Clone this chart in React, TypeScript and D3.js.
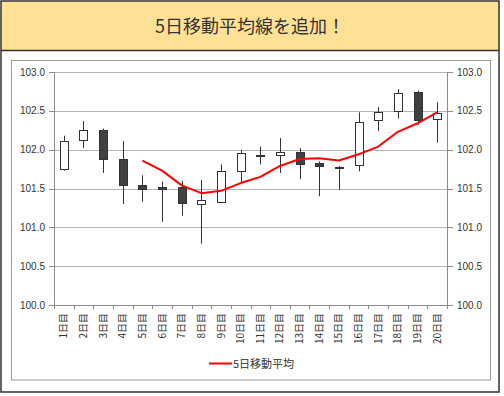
import React from "react";
import * as d3 from "d3";

const days = ["1日目","2日目","3日目","4日目","5日目","6日目","7日目","8日目","9日目","10日目","11日目","12日目","13日目","14日目","15日目","16日目","17日目","18日目","19日目","20日目"];
const openV = [101.75,102.12,102.25,101.88,101.55,101.52,101.52,101.30,101.33,101.72,101.93,101.93,101.97,101.83,101.78,101.80,102.38,102.50,102.74,102.39];
const highV = [102.18,102.37,102.27,102.11,101.67,101.59,101.60,101.61,101.81,102.00,102.04,102.15,102.02,101.85,101.79,102.48,102.55,102.78,102.76,102.61];
const lowV = [101.73,102.02,101.70,101.30,101.33,101.07,101.15,100.79,101.33,101.57,101.81,101.70,101.62,101.40,101.48,101.72,102.24,102.40,102.32,102.09];
const closeV = [102.11,102.25,101.88,101.55,101.49,101.49,101.31,101.35,101.72,101.96,101.93,101.97,101.82,101.79,101.77,102.36,102.48,102.73,102.38,102.47];
const ma5 = [null,null,null,null,101.86,101.73,101.54,101.44,101.47,101.57,101.65,101.79,101.88,101.89,101.86,101.94,102.04,102.23,102.34,102.48];
const yTicks = [100.0,100.5,101.0,101.5,102.0,102.5,103.0];
const titleText = "5日移動平均線を追加！";
const legendText = "5日移動平均";

export default function App() {
  const W = 504, H = 396;
  const left = 54, right = 447, top = 72, bottom = 305;
  const x = d3.scaleBand<string>().domain(days).range([left, right]);
  const y = d3.scaleLinear().domain([100, 103]).range([bottom, top]);
  const bw = x.bandwidth();
  const cx = (i: number) => (x(days[i]) as number) + bw / 2;
  const px = (v: number) => Math.round(v) + 0.5;

  const line = d3.line<number | null>()
    .defined((d) => d != null)
    .x((_, i) => cx(i))
    .y((d) => y(d as number))
    .curve(d3.curveLinear);

  const numFont = "'Liberation Sans', Arial, sans-serif";
  const jpFont = "'Noto Sans CJK JP', sans-serif";
  const dark = "#333333";

  return (
    <svg width={W} height={H} style={{ position: "absolute", left: 0, top: 0 }} xmlns="http://www.w3.org/2000/svg">
      <rect x={0} y={0} width={W} height={H} fill="#ffffff" />
      {/* title band */}
      <rect x={1} y={1} width={498} height={49.5} fill="#FFE196" />
      <line x1={1} x2={499} y1={50.5} y2={50.5} stroke={dark} strokeWidth={1.5} />
      <rect x={1} y={1} width={498} height={391} fill="none" stroke={dark} strokeWidth={1.5} />
      <text x={250} y={33} textAnchor="middle" fontFamily={jpFont} fontSize={18} fill={dark}>{titleText}</text>

      {/* inner chart frame */}
      <rect x={11.5} y={60.5} width={479} height={319.5} fill="#ffffff" stroke="#9a9a9a" strokeWidth={1} />

      {/* gridlines */}
      {yTicks.map((t) => (
        <line key={"g" + t} x1={left} x2={right} y1={px(y(t))} y2={px(y(t))} stroke="#b4b4b4" strokeWidth={1} />
      ))}
      {/* axes */}
      <line x1={px(left)} x2={px(left)} y1={top} y2={bottom + 1} stroke="#8c8c8c" />
      <line x1={px(right)} x2={px(right)} y1={top} y2={bottom + 1} stroke="#8c8c8c" />
      <line x1={left} x2={right + 1} y1={px(bottom)} y2={px(bottom)} stroke="#8c8c8c" />
      {yTicks.map((t) => (
        <g key={"t" + t}>
          <line x1={left - 5} x2={left} y1={px(y(t))} y2={px(y(t))} stroke="#8c8c8c" />
          <line x1={right} x2={right + 6} y1={px(y(t))} y2={px(y(t))} stroke="#8c8c8c" />
          <text x={45} y={y(t) + 3.6} textAnchor="end" fontFamily={numFont} fontSize={10} fill={dark}>{t.toFixed(1)}</text>
          <text x={457} y={y(t) + 3.6} textAnchor="start" fontFamily={numFont} fontSize={10} fill={dark}>{t.toFixed(1)}</text>
        </g>
      ))}
      {days.map((d, i) => (
        <line key={"xt" + i} x1={px(x(d) as number)} x2={px(x(d) as number)} y1={bottom} y2={bottom + 4} stroke="#8c8c8c" />
      ))}
      <line x1={px(right)} x2={px(right)} y1={bottom} y2={bottom + 4} stroke="#8c8c8c" />

      {/* x labels */}
      {days.map((d, i) => (
        <text key={"xl" + i} transform={`translate(${cx(i) + 3.5},313) rotate(-90)`} textAnchor="end" fontFamily={jpFont} fontSize={10} fill={dark}>{d}</text>
      ))}

      {/* candles */}
      {days.map((d, i) => {
        const o = openV[i], c = closeV[i];
        const up = c >= o;
        const yt = Math.round(y(Math.max(o, c)));
        const yb = Math.round(y(Math.min(o, c)));
        const h = Math.max(yb - yt, 1);
        const xc = Math.round(cx(i));
        return (
          <g key={"c" + i}>
            <line x1={xc + 0.5} x2={xc + 0.5} y1={y(highV[i])} y2={y(lowV[i])} stroke={dark} strokeWidth={1} />
            <rect x={xc - 3.5} y={yt + 0.5} width={8} height={h} fill={up ? "#ffffff" : "#404040"} stroke={dark} strokeWidth={1} />
          </g>
        );
      })}

      {/* moving average */}
      <path d={line(ma5) || ""} fill="none" stroke="#ff0000" strokeWidth={2} strokeLinejoin="round" />

      {/* legend */}
      <line x1={209} x2={232} y1={363.5} y2={363.5} stroke="#ff0000" strokeWidth={2} />
      <text x={233} y={367.5} fontFamily={jpFont} fontSize={11} fill={dark}>{legendText}</text>
    </svg>
  );
}
